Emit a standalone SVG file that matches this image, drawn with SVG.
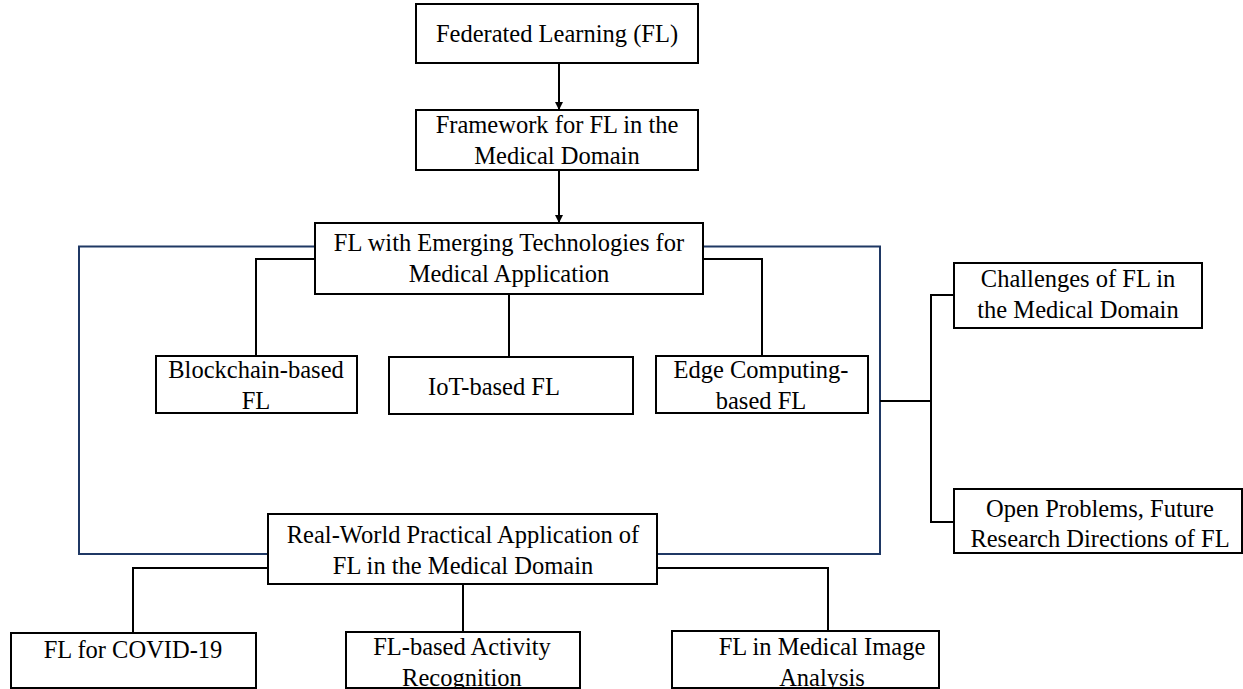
<svg xmlns="http://www.w3.org/2000/svg" width="1243" height="689" viewBox="0 0 1243 689">
<defs>
<style>
.box{fill:#ffffff;stroke:#000000;stroke-width:2}
.conn{fill:none;stroke:#000000;stroke-width:2}
.frame{fill:none;stroke:#1f3864;stroke-width:2}
text{font-family:"Liberation Serif","Times New Roman",serif;font-size:24.5px;fill:#000000;text-anchor:middle}
</style>
<marker id="arr" viewBox="0 0 10 10" refX="10" refY="5" markerWidth="8" markerHeight="8" markerUnits="userSpaceOnUse" orient="auto">
<path d="M0,0 L10,5 L0,10 z" fill="#000000"/>
</marker>
</defs>
<rect width="1243" height="689" fill="#ffffff"/>
<g id="frame">
<rect class="frame" x="79" y="246.5" width="801" height="307.5"/>
</g>
<g id="connectors">
<line class="conn" x1="559" y1="63" x2="559" y2="110" marker-end="url(#arr)"/>
<line class="conn" x1="559" y1="170" x2="559" y2="223" marker-end="url(#arr)"/>
<polyline class="conn" points="315,259 256,259 256,356"/>
<line class="conn" x1="509" y1="294" x2="509" y2="357"/>
<polyline class="conn" points="703,259 762,259 762,356"/>
<line class="conn" x1="880" y1="401" x2="931" y2="401"/>
<polyline class="conn" points="954,295 931,295 931,522 954,522"/>
<polyline class="conn" points="268,568 133,568 133,633"/>
<line class="conn" x1="463" y1="584" x2="463" y2="632"/>
<polyline class="conn" points="657,568 828,568 828,631"/>
</g>
<g id="n1">
<rect class="box" x="416" y="4" width="282" height="59"/>
<text x="557" y="42">Federated Learning (FL)</text>
</g>
<g id="n2">
<rect class="box" x="416" y="110" width="282" height="60"/>
<text x="557" y="133">Framework for FL in the</text>
<text x="557" y="164">Medical Domain</text>
</g>
<g id="n3">
<rect class="box" x="315" y="223" width="388" height="71"/>
<text x="509" y="251">FL with Emerging Technologies for</text>
<text x="509" y="282">Medical Application</text>
</g>
<g id="n4">
<rect class="box" x="156" y="356" width="201" height="57"/>
<text x="256" y="378">Blockchain-based</text>
<text x="256" y="409">FL</text>
</g>
<g id="n5">
<rect class="box" x="389" y="357" width="244" height="57"/>
<text x="494" y="395">IoT-based FL</text>
</g>
<g id="n6">
<rect class="box" x="656" y="356" width="212" height="57"/>
<text x="761" y="378">Edge Computing-</text>
<text x="761" y="409">based FL</text>
</g>
<g id="n7">
<rect class="box" x="954" y="263" width="248" height="65"/>
<text x="1078" y="287">Challenges of FL in</text>
<text x="1078" y="318">the Medical Domain</text>
</g>
<g id="n8">
<rect class="box" x="954" y="489" width="288" height="64"/>
<text x="1100" y="517">Open Problems, Future</text>
<text x="1100" y="547">Research Directions of FL</text>
</g>
<g id="n9">
<rect class="box" x="268" y="514" width="389" height="70"/>
<text x="463" y="543">Real-World Practical Application of</text>
<text x="463" y="574">FL in the Medical Domain</text>
</g>
<g id="n10">
<rect class="box" x="11" y="633" width="245" height="55"/>
<text x="133" y="658">FL for COVID-19</text>
</g>
<g id="n11">
<rect class="box" x="346" y="632" width="234" height="56"/>
<text x="462" y="655">FL-based Activity</text>
<text x="462" y="686">Recognition</text>
</g>
<g id="n12">
<rect class="box" x="672" y="631" width="267" height="57"/>
<text x="822" y="655">FL in Medical Image</text>
<text x="822" y="686">Analysis</text>
</g>
</svg>
